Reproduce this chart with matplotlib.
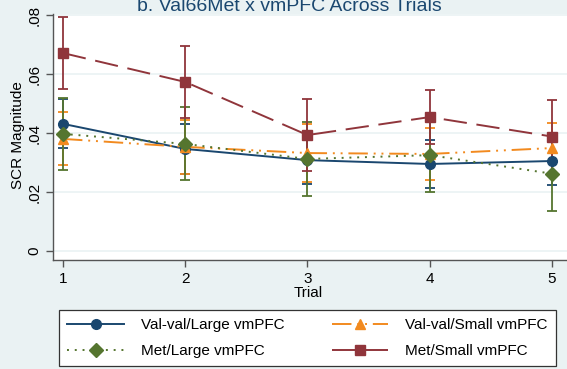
import matplotlib
matplotlib.use("Agg")
import matplotlib.pyplot as plt
from matplotlib.ticker import FuncFormatter

# data (mean and half-width of error bar)
trials = [1, 2, 3, 4, 5]
valLarge = [0.0431, 0.0346, 0.0308, 0.0295, 0.0305]
valLargeErr = [0.0083, 0.0085, 0.0081, 0.0081, 0.0081]
valSmall = [0.0380, 0.0353, 0.0332, 0.0329, 0.0349]
valSmallErr = [0.0090, 0.0092, 0.0098, 0.0088, 0.0086]
metLarge = [0.0397, 0.0363, 0.0312, 0.0325, 0.0262]
metLargeErr = [0.0122, 0.0124, 0.0124, 0.0125, 0.0125]
metSmall = [0.0671, 0.0573, 0.0393, 0.0454, 0.0388]
metSmallErr = [0.0122, 0.0122, 0.0123, 0.0092, 0.0124]
labels = ["Val-val/Large vmPFC", "Val-val/Small vmPFC", "Met/Large vmPFC", "Met/Small vmPFC"]

navy = "#1a476f"
orange = "#f28a1f"
green = "#55752f"
maroon = "#90353b"
bg = "#eaf2f3"

plt.rcParams['font.family'] = ['Liberation Sans', 'DejaVu Sans']

W, H = 567, 369
fig = plt.figure(figsize=(W / 100, H / 100), dpi=100, facecolor=bg)
# axes runs past the right edge, the reference is cropped there
ax = fig.add_axes([53 / W, (H - 260) / H, (585 - 53) / W, (260 - 14) / H])
ax.set_facecolor("white")

series = [
    (valLarge, valLargeErr, navy, "o", 7, "-", labels[0]),
    (valSmall, valSmallErr, orange, "^", 7.5, (0, (10, 3, 1, 3, 1, 3)), labels[1]),
    (metLarge, metLargeErr, green, "D", 7, (0, (1, 3)), labels[2]),
    (metSmall, metSmallErr, maroon, "s", 7, (0, (12, 5)), labels[3]),
]

# error bars first, lines + markers on top
for vals, err, col, mk, ms, ls, lab in series:
    ax.errorbar(trials, vals, yerr=err, fmt="none", ecolor=col, elinewidth=1.3,
                capsize=3.6, capthick=1.3, zorder=2)
handles = []
for vals, err, col, mk, ms, ls, lab in series:
    h, = ax.plot(trials, vals, color=col, linestyle=ls, linewidth=1.4,
                 marker=mk, markersize=ms, markerfacecolor=col, markeredgecolor=col,
                 label=lab, zorder=3)
    handles.append(h)

ax.set_xlim(1 - 10 / 122.25, 1 + (585 - 63) / 122.25)
ax.set_ylim(-9 / 2950, (251 - 14) / 2950)
ax.set_xticks(trials)
ax.set_yticks([0, 0.02, 0.04, 0.06, 0.08])
ax.yaxis.set_major_formatter(FuncFormatter(lambda v, p: "0" if v == 0 else ("%.2f" % v).lstrip("0")))
for lbl in ax.get_yticklabels():
    lbl.set_rotation(90)
    lbl.set_va("center")
ax.tick_params(axis="both", colors="#555555", labelcolor="black", labelsize=11, length=5, width=1)
ax.grid(axis="y", color=bg, linewidth=1.2)
ax.set_axisbelow(True)
for s in ["top", "right"]:
    ax.spines[s].set_visible(False)
for s in ["left", "bottom"]:
    ax.spines[s].set_color("#555555")
    ax.spines[s].set_linewidth(1)

fig.text(308 / W, 1 - 293 / H, "Trial", ha="center", va="center", fontsize=11)
fig.text(18 / W, 1 - 135 / H, "SCR Magnitude", ha="center", va="center", rotation=90, fontsize=11)

# title sits partly above the top edge, as in the cropped reference
fig.text(289 / W, 1 - 11 / H, "b. Val66Met x vmPFC Across Trials", ha="center", va="baseline",
         fontsize=14, color=navy)

# rows: Val-val/Large | Val-val/Small, Met/Large | Met/Small
order = [0, 2, 1, 3]
leg = fig.legend(handles=[handles[i] for i in order], labels=[labels[i] for i in order],
                 ncol=2, loc="upper left", bbox_to_anchor=(59 / W, 1 - 310 / H),
                 fontsize=11, frameon=True, fancybox=False, edgecolor="#333333",
                 framealpha=1, facecolor="white", handlelength=3.7, handletextpad=1.1,
                 columnspacing=3.1, labelspacing=0.75, borderpad=0.55, borderaxespad=0)
leg.get_frame().set_linewidth(0.9)

fig.savefig("out.png", dpi=100, facecolor=bg)
